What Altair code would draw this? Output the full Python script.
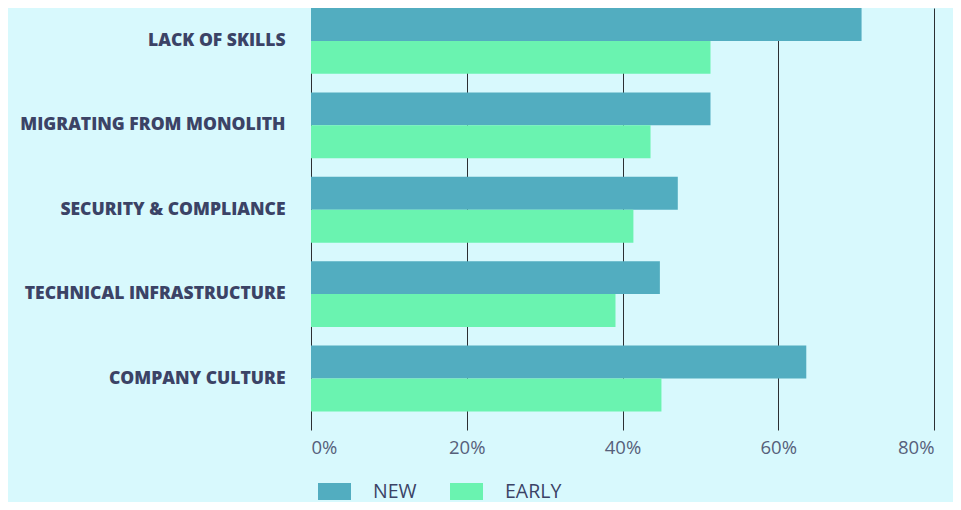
import altair as alt
import pandas as pd

categories = ["LACK OF SKILLS", "MIGRATING FROM MONOLITH", "SECURITY & COMPLIANCE",
              "TECHNICAL INFRASTRUCTURE", "COMPANY CULTURE"]
series = ["NEW", "EARLY"]
new_vals = [70.7, 51.3, 47.1, 44.8, 63.6]
early_vals = [51.3, 43.6, 41.4, 39.1, 45.0]
x_ticks = [0, 0.2, 0.4, 0.6, 0.8]

rows = []
for c, n, e in zip(categories, new_vals, early_vals):
    rows.append({"category": c, "series": "NEW", "value": n / 100})
    rows.append({"category": c, "series": "EARLY", "value": e / 100})
df = pd.DataFrame(rows)

navy = "#3b4366"
rect_path = "M-1,-0.52H1V0.52H-1Z"

chart = alt.Chart(df).mark_bar().encode(
    y=alt.Y("category:N", sort=categories, title=None,
            scale=alt.Scale(paddingInner=0.22, paddingOuter=0.11, align=0),
            axis=alt.Axis(domain=False, ticks=False, labelPadding=26,
                          labelFont="Open Sans", labelFontWeight=800,
                          labelFontSize=17.5, labelColor=navy, labelLimit=400)),
    yOffset=alt.YOffset("series:N", sort=series, scale=alt.Scale(paddingInner=0, paddingOuter=0)),
    x=alt.X("value:Q", title=None,
            scale=alt.Scale(domain=[0, 0.8], nice=False),
            axis=alt.Axis(values=x_ticks, format=".0%", grid=True, gridColor="#2b2f33",
                          gridOpacity=1, gridWidth=1, domain=False, ticks=False,
                          labelPadding=8, labelFont="Open Sans", labelFontWeight=400,
                          labelFontSize=18.5, labelColor="#56607a")),
    color=alt.Color("series:N", sort=series,
                    scale=alt.Scale(domain=series, range=["#52adc0", "#6af3b0"]),
                    legend=alt.Legend(title=None, orient="none", direction="horizontal",
                                      legendX=7, legendY=467, padding=0,
                                      symbolType=rect_path, symbolSize=1089,
                                      symbolStrokeWidth=0, symbolOpacity=1,
                                      labelFont="Open Sans", labelFontWeight=400,
                                      labelFontSize=19.5, labelColor=navy,
                                      labelOffset=22, columnPadding=33)),
).properties(
    width=623, height=422,
    background="#d8f9fd",
    padding={"left": 303, "top": 0, "right": 19, "bottom": 72},
    autosize=alt.AutoSizeParams(type="none"),
).configure_view(stroke=None)

chart.save("out.html", embed_options={"renderer": "svg", "actions": False})
